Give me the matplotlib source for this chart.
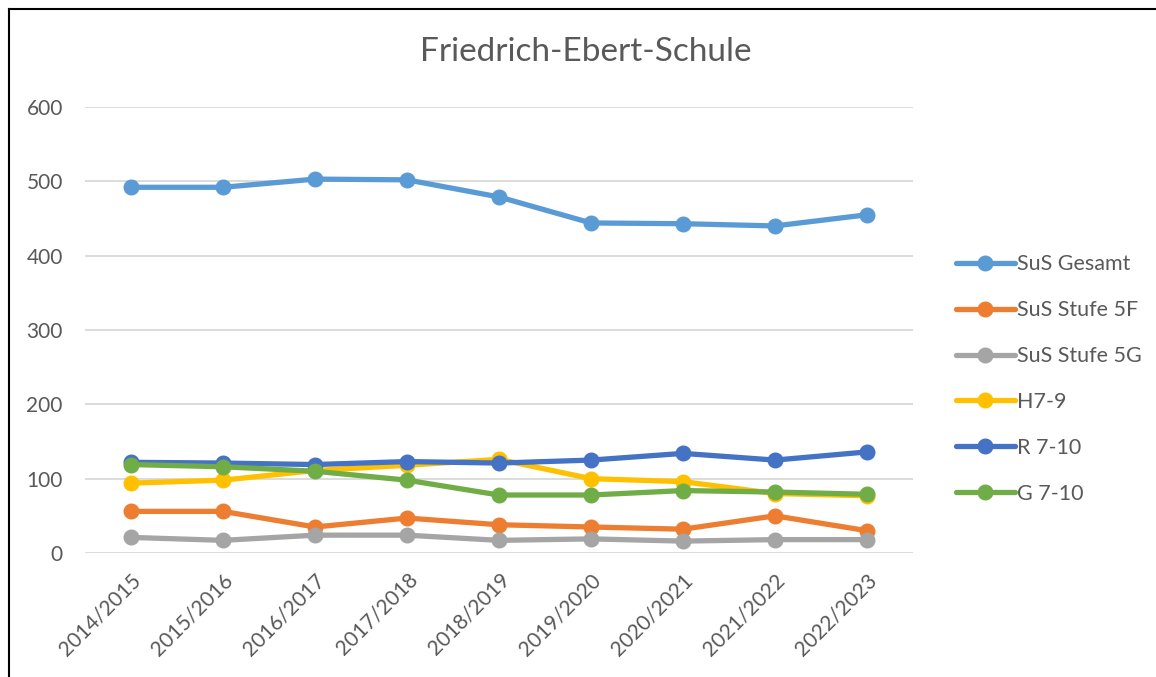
import matplotlib
matplotlib.use("Agg")
import matplotlib.pyplot as plt
from matplotlib.lines import Line2D

plt.rcParams['font.family'] = ['Lato', 'DejaVu Sans']

# school years on the x axis
years = ["2014/2015", "2015/2016", "2016/2017", "2017/2018", "2018/2019",
         "2019/2020", "2020/2021", "2021/2022", "2022/2023"]

sus_gesamt = [492, 492, 503, 502, 479, 444, 443, 440, 455]
sus_5f = [56, 56, 35, 47, 38, 35, 32, 50, 30]
sus_5g = [21, 17, 24, 24, 17, 19, 16, 18, 18]
h7_9 = [94, 98, 111, 118, 126, 100, 96, 80, 77]
r7_10 = [122, 121, 119, 123, 121, 125, 134, 125, 136]
g7_10 = [119, 116, 110, 98, 78, 78, 84, 82, 79]

series = [
    ("SuS Gesamt", sus_gesamt, "#5B9BD5"),
    ("SuS Stufe 5F", sus_5f, "#ED7D31"),
    ("SuS Stufe 5G", sus_5g, "#A5A5A5"),
    ("H7-9", h7_9, "#FFC000"),
    ("R 7-10", r7_10, "#4472C4"),
    ("G 7-10", g7_10, "#70AD47"),
]

W, H = 1156, 677
fig = plt.figure(figsize=(W / 100, H / 100), dpi=100)
ax = fig.add_axes([85 / W, 1 - 553 / H, (913 - 85) / W, (553 - 107) / H])

x = list(range(len(years)))
handles = []
for name, vals, col in series:
    ln, = ax.plot(x, vals, color=col, lw=3.8, marker='o', ms=10.5,
                  solid_capstyle='round', clip_on=False, label=name)
    handles.append(ln)

ax.set_xlim(-0.5, len(years) - 0.5)
ax.set_ylim(0, 600)
ax.set_yticks(range(0, 601, 100))
ax.grid(axis='y', color='#D9D9D9', lw=1.3)
ax.set_axisbelow(True)
for s in ax.spines.values():
    s.set_visible(False)
ax.tick_params(length=0, colors='#595959', labelsize=15)
ax.tick_params(axis='y', pad=16)
ax.set_xticks(x)
ax.set_xticklabels(years, rotation=45, ha='right', rotation_mode='anchor')
ax.tick_params(axis='x', pad=12)

fig.text(586 / W, 1 - 52 / H, "Friedrich-Ebert-Schule", ha='center', va='center',
         fontsize=24, color='#595959')

fig.legend(handles=handles, loc='center left', bbox_to_anchor=(937 / W, 1 - 379 / H),
           frameon=False, fontsize=15.5, labelspacing=1.2, handlelength=2.7,
           handletextpad=0.1, labelcolor='#595959')

# chart frame (top and left edges visible)
fig.add_artist(Line2D([8.5 / W, 8.5 / W], [0, 1 - 8.5 / H], color='black', lw=1.5))
fig.add_artist(Line2D([8.5 / W, 1], [1 - 8.5 / H, 1 - 8.5 / H], color='black', lw=1.5))

fig.savefig("out.png", dpi=100)
